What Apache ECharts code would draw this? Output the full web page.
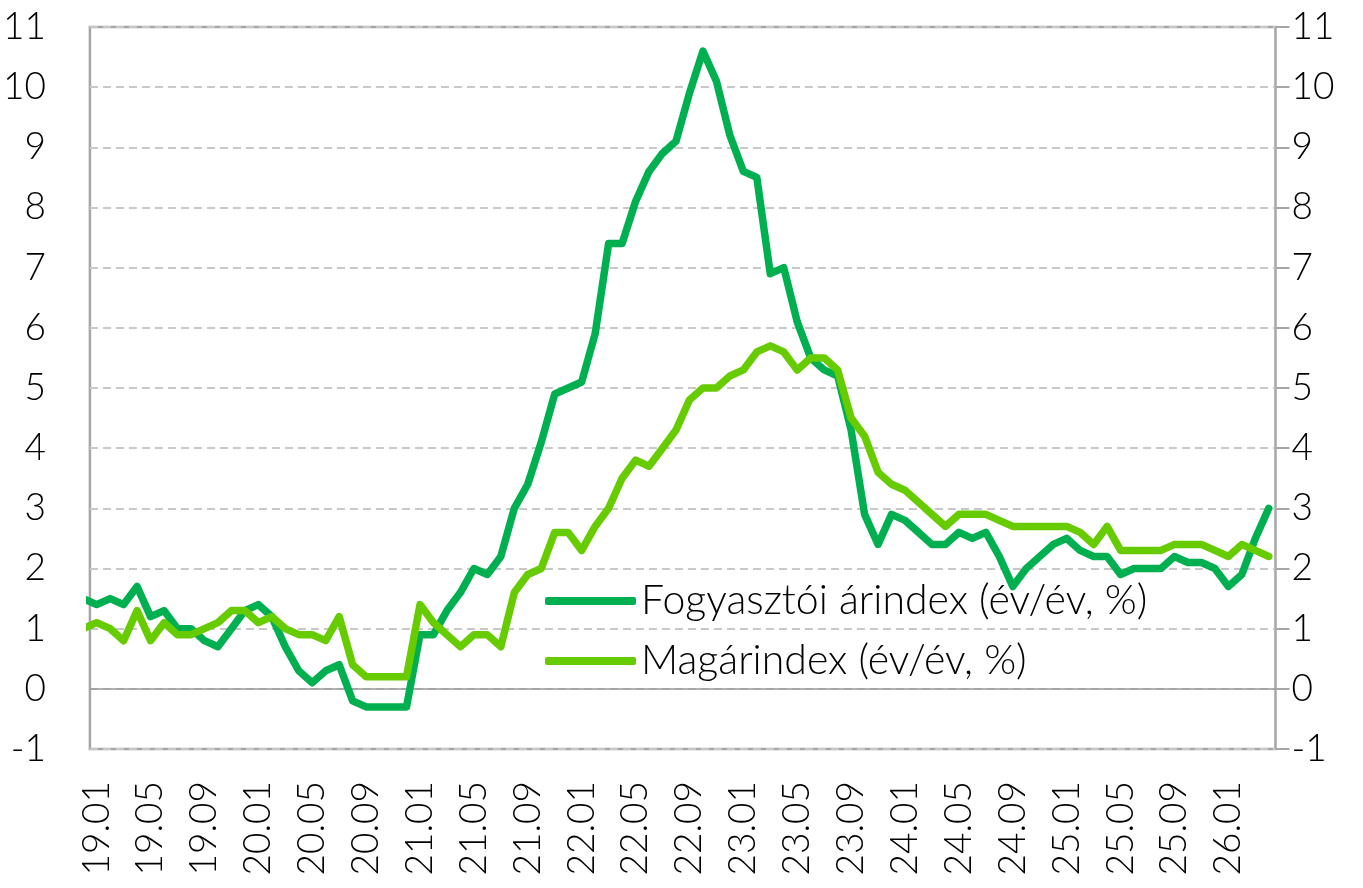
<!DOCTYPE html>
<html>
<head>
<meta charset="utf-8">
<script src="https://cdn.jsdelivr.net/npm/echarts@6/dist/echarts.min.js"></script>
<style>
  html, body { margin: 0; padding: 0; background: #fff; }
  #main { width: 1363px; height: 888px; }
</style>
</head>
<body>
<div id="main"></div>
<script>
// honapok 18.12-tol 26.04-ig, az elso pont csak a bal szelen levagva latszik
var months = ['18.12',
  '19.01','19.02','19.03','19.04','19.05','19.06','19.07','19.08','19.09','19.10','19.11','19.12',
  '20.01','20.02','20.03','20.04','20.05','20.06','20.07','20.08','20.09','20.10','20.11','20.12',
  '21.01','21.02','21.03','21.04','21.05','21.06','21.07','21.08','21.09','21.10','21.11','21.12',
  '22.01','22.02','22.03','22.04','22.05','22.06','22.07','22.08','22.09','22.10','22.11','22.12',
  '23.01','23.02','23.03','23.04','23.05','23.06','23.07','23.08','23.09','23.10','23.11','23.12',
  '24.01','24.02','24.03','24.04','24.05','24.06','24.07','24.08','24.09','24.10','24.11','24.12',
  '25.01','25.02','25.03','25.04','25.05','25.06','25.07','25.08','25.09','25.10','25.11','25.12',
  '26.01','26.02','26.03','26.04'];

// Fogyasztói árindex (év/év, %)
var cpi = [1.5,
  1.4, 1.5, 1.4, 1.7, 1.2, 1.3, 1.0, 1.0, 0.8, 0.7, 1.0, 1.3,
  1.4, 1.2, 0.7, 0.3, 0.1, 0.3, 0.4, -0.2, -0.3, -0.3, -0.3, -0.3,
  0.9, 0.9, 1.3, 1.6, 2.0, 1.9, 2.2, 3.0, 3.4, 4.1, 4.9, 5.0,
  5.1, 5.9, 7.4, 7.4, 8.1, 8.6, 8.9, 9.1, 9.9, 10.6, 10.1, 9.2,
  8.6, 8.5, 6.9, 7.0, 6.1, 5.5, 5.3, 5.2, 4.3, 2.9, 2.4, 2.9,
  2.8, 2.6, 2.4, 2.4, 2.6, 2.5, 2.6, 2.2, 1.7, 2.0, 2.2, 2.4,
  2.5, 2.3, 2.2, 2.2, 1.9, 2.0, 2.0, 2.0, 2.2, 2.1, 2.1, 2.0,
  1.7, 1.9, 2.5, 3.0];

// Magárindex (év/év, %)
var core = [1.0,
  1.1, 1.0, 0.8, 1.3, 0.8, 1.1, 0.9, 0.9, 1.0, 1.1, 1.3, 1.3,
  1.1, 1.2, 1.0, 0.9, 0.9, 0.8, 1.2, 0.4, 0.2, 0.2, 0.2, 0.2,
  1.4, 1.1, 0.9, 0.7, 0.9, 0.9, 0.7, 1.6, 1.9, 2.0, 2.6, 2.6,
  2.3, 2.7, 3.0, 3.5, 3.8, 3.7, 4.0, 4.3, 4.8, 5.0, 5.0, 5.2,
  5.3, 5.6, 5.7, 5.6, 5.3, 5.5, 5.5, 5.3, 4.5, 4.2, 3.6, 3.4,
  3.3, 3.1, 2.9, 2.7, 2.9, 2.9, 2.9, 2.8, 2.7, 2.7, 2.7, 2.7,
  2.7, 2.6, 2.4, 2.7, 2.3, 2.3, 2.3, 2.3, 2.4, 2.4, 2.4, 2.3,
  2.2, 2.4, 2.3, 2.2];

// x tengely feliratai: minden negyedik honap 19.01-tol
var tickLabels = ['19.01','19.05','19.09','20.01','20.05','20.09','21.01','21.05','21.09',
  '22.01','22.05','22.09','23.01','23.05','23.09','24.01','24.05','24.09','25.01','25.05','25.09','26.01'];

var seriesNames = ['Fogyasztói árindex (év/év, %)', 'Magárindex (év/év, %)'];

var FONT = "Lato, 'Open Sans', sans-serif";
var tickPos = tickLabels.map(function (l) { return months.indexOf(l); });

function pairs(arr) {
  return arr.map(function (v, i) { return [i, v]; });
}

var myChart = echarts.init(document.getElementById('main'));
var gridDash = { color: '#c8c8c8', width: 2, type: [8, 5] };

var option = {
  animation: false,
  textStyle: { fontFamily: FONT },
  grid: {
    left: 87.5, right: 87.5, top: 27, bottom: 139,
    show: true, borderColor: '#a6a6a6', borderWidth: 2.5, backgroundColor: 'transparent'
  },
  legend: {
    orient: 'vertical',
    left: 545, top: 578, padding: 0,
    itemWidth: 91, itemHeight: 8, itemGap: 14,
    icon: 'roundRect',
    textStyle: { fontSize: 41, fontWeight: 300, color: '#000', lineHeight: 46, fontFamily: FONT },
    data: seriesNames
  },
  xAxis: [{
    type: 'value',
    min: 0.5, max: months.length - 0.5,
    axisLine: { show: false },
    axisTick: { show: false },
    splitLine: { show: false },
    axisLabel: {
      customValues: tickPos,
      rotate: 90,
      margin: 32,
      fontSize: 37, fontWeight: 300, color: '#000', fontFamily: FONT,
      formatter: function (v) { return months[v]; }
    }
  }, {
    // nulla vonal
    type: 'value',
    min: 0.5, max: months.length - 0.5,
    axisLine: { show: true, onZero: true, lineStyle: { color: '#999', width: 1.5 } },
    axisTick: { show: false },
    axisLabel: { show: false },
    splitLine: { show: false }
  }],
  yAxis: [{
    type: 'value', position: 'left',
    min: -1, max: 11, interval: 1,
    axisLine: { show: false },
    axisTick: { show: false },
    splitLine: { show: true, lineStyle: gridDash },
    axisLabel: { margin: 44, fontSize: 37, fontWeight: 300, color: '#000', fontFamily: FONT }
  }, {
    type: 'value', position: 'right',
    min: -1, max: 11, interval: 1,
    axisLine: { show: false },
    axisTick: { show: true, length: 14, lineStyle: { color: '#a6a6a6', width: 2 } },
    splitLine: { show: false },
    axisLabel: { margin: 16, fontSize: 37, fontWeight: 300, color: '#000', fontFamily: FONT }
  }],
  series: [{
    name: seriesNames[0],
    type: 'line',
    xAxisIndex: 0, yAxisIndex: 0,
    showSymbol: false, symbol: 'none',
    color: '#00b050',
    lineStyle: { width: 7.5, color: '#00b050', join: 'round', cap: 'round' },
    data: pairs(cpi)
  }, {
    name: seriesNames[1],
    type: 'line',
    xAxisIndex: 0, yAxisIndex: 0,
    showSymbol: false, symbol: 'none',
    color: '#66cc00',
    lineStyle: { width: 7.5, color: '#66cc00', join: 'round', cap: 'round' },
    data: pairs(core)
  }]
};
myChart.setOption(option);
</script>
</body>
</html>
